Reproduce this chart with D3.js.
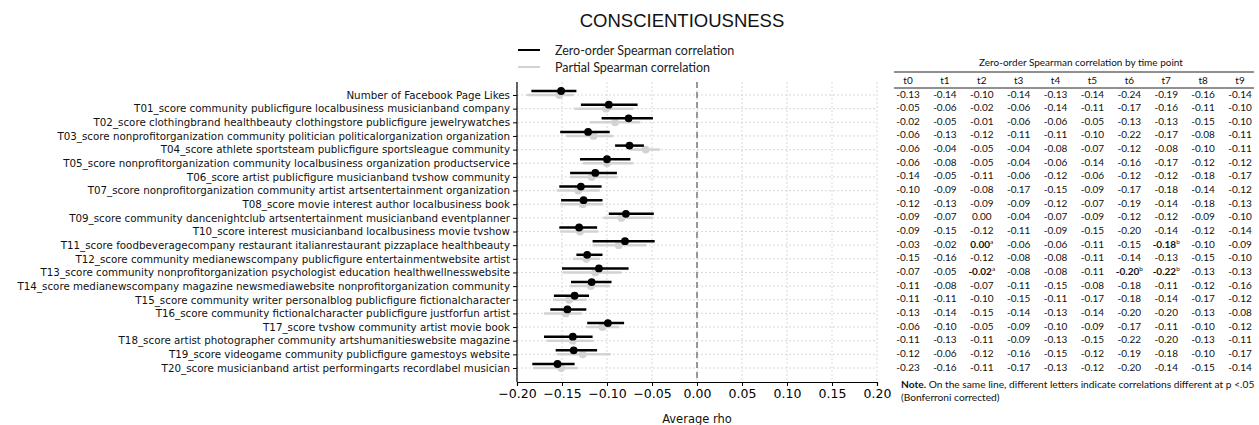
<!DOCTYPE html>
<html><head><meta charset="utf-8">
<script src="https://cdn.jsdelivr.net/npm/d3@7"></script>
<style>body{margin:0;background:#fff}svg{display:block}</style>
</head><body>
<svg id="c" width="1259" height="425"></svg>
<script>
const categories = [
"Number of Facebook Page Likes",
"T01_score community publicfigure localbusiness musicianband company",
"T02_score clothingbrand healthbeauty clothingstore publicfigure jewelrywatches",
"T03_score nonprofitorganization community politician politicalorganization organization",
"T04_score athlete sportsteam publicfigure sportsleague community",
"T05_score nonprofitorganization community localbusiness organization productservice",
"T06_score artist publicfigure musicianband tvshow community",
"T07_score nonprofitorganization community artist artsentertainment organization",
"T08_score movie interest author localbusiness book",
"T09_score community dancenightclub artsentertainment musicianband eventplanner",
"T10_score interest musicianband localbusiness movie tvshow",
"T11_score foodbeveragecompany restaurant italianrestaurant pizzaplace healthbeauty",
"T12_score community medianewscompany publicfigure entertainmentwebsite artist",
"T13_score community nonprofitorganization psychologist education healthwellnesswebsite",
"T14_score medianewscompany magazine newsmediawebsite nonprofitorganization community",
"T15_score community writer personalblog publicfigure fictionalcharacter",
"T16_score community fictionalcharacter publicfigure justforfun artist",
"T17_score tvshow community artist movie book",
"T18_score artist photographer community artshumanitieswebsite magazine",
"T19_score videogame community publicfigure gamestoys website",
"T20_score musicianband artist performingarts recordlabel musician"
];
// Zero-order Spearman (black)
const zeroOrder = [-0.151,-0.098,-0.076,-0.121,-0.075,-0.100,-0.113,-0.129,-0.126,-0.079,-0.131,-0.080,-0.122,-0.109,-0.117,-0.136,-0.144,-0.099,-0.138,-0.137,-0.155];
const zeroLow   = [-0.184,-0.129,-0.106,-0.152,-0.091,-0.130,-0.141,-0.153,-0.151,-0.098,-0.153,-0.116,-0.134,-0.150,-0.140,-0.159,-0.163,-0.122,-0.170,-0.157,-0.183];
const zeroHigh  = [-0.134,-0.066,-0.049,-0.097,-0.059,-0.074,-0.089,-0.106,-0.105,-0.048,-0.111,-0.047,-0.105,-0.076,-0.095,-0.120,-0.123,-0.081,-0.116,-0.111,-0.136];
// Partial Spearman (light grey)
const partial     = [-0.153,-0.101,-0.091,-0.115,-0.057,-0.100,-0.117,-0.132,-0.127,-0.084,-0.130,-0.087,-0.123,-0.113,-0.118,-0.142,-0.146,-0.105,-0.138,-0.127,-0.151];
const partialLow  = [-0.189,-0.136,-0.119,-0.145,-0.074,-0.127,-0.141,-0.156,-0.152,-0.104,-0.152,-0.116,-0.138,-0.149,-0.141,-0.160,-0.170,-0.123,-0.167,-0.156,-0.182];
const partialHigh = [-0.137,-0.071,-0.063,-0.093,-0.041,-0.071,-0.089,-0.108,-0.104,-0.049,-0.110,-0.056,-0.108,-0.084,-0.097,-0.123,-0.128,-0.086,-0.115,-0.096,-0.133];

const xTicks = [-0.20,-0.15,-0.10,-0.05,0.00,0.05,0.10,0.15,0.20];
const timeLabels = ["t0","t1","t2","t3","t4","t5","t6","t7","t8","t9"];
const tableRows = [
["-0.13","-0.14","-0.10","-0.14","-0.13","-0.14","-0.24","-0.19","-0.16","-0.14"],
["-0.05","-0.06","-0.02","-0.06","-0.14","-0.11","-0.17","-0.16","-0.11","-0.10"],
["-0.02","-0.05","-0.01","-0.06","-0.06","-0.05","-0.13","-0.13","-0.15","-0.10"],
["-0.06","-0.13","-0.12","-0.11","-0.11","-0.10","-0.22","-0.17","-0.08","-0.11"],
["-0.06","-0.04","-0.05","-0.04","-0.08","-0.07","-0.12","-0.08","-0.10","-0.11"],
["-0.06","-0.08","-0.05","-0.04","-0.06","-0.14","-0.16","-0.17","-0.12","-0.12"],
["-0.14","-0.05","-0.11","-0.06","-0.12","-0.06","-0.12","-0.12","-0.18","-0.17"],
["-0.10","-0.09","-0.08","-0.17","-0.15","-0.09","-0.17","-0.18","-0.14","-0.12"],
["-0.12","-0.13","-0.09","-0.09","-0.12","-0.07","-0.19","-0.14","-0.18","-0.13"],
["-0.09","-0.07","0.00","-0.04","-0.07","-0.09","-0.12","-0.12","-0.09","-0.10"],
["-0.09","-0.15","-0.12","-0.11","-0.09","-0.15","-0.20","-0.14","-0.12","-0.14"],
["-0.03","-0.02","0.00","-0.06","-0.06","-0.11","-0.15","-0.18","-0.10","-0.09"],
["-0.15","-0.16","-0.12","-0.08","-0.08","-0.11","-0.14","-0.13","-0.15","-0.10"],
["-0.07","-0.05","-0.02","-0.08","-0.08","-0.11","-0.20","-0.22","-0.13","-0.13"],
["-0.11","-0.08","-0.07","-0.11","-0.15","-0.08","-0.18","-0.11","-0.12","-0.16"],
["-0.11","-0.11","-0.10","-0.15","-0.11","-0.17","-0.18","-0.14","-0.17","-0.12"],
["-0.13","-0.14","-0.15","-0.14","-0.13","-0.14","-0.20","-0.20","-0.13","-0.08"],
["-0.06","-0.10","-0.05","-0.09","-0.10","-0.09","-0.17","-0.11","-0.10","-0.12"],
["-0.11","-0.13","-0.11","-0.09","-0.13","-0.15","-0.22","-0.20","-0.13","-0.11"],
["-0.12","-0.06","-0.12","-0.16","-0.15","-0.12","-0.19","-0.18","-0.10","-0.17"],
["-0.23","-0.16","-0.11","-0.17","-0.13","-0.12","-0.20","-0.14","-0.15","-0.14"]
];
// bold cells with superscript letters: [row, col, letter]
const boldCells = [[11,2,"a"],[11,7,"b"],[13,2,"a"],[13,6,"b"],[13,7,"b"]];

const svg = d3.select("#c");
const plot = {left:517, right:877, top:82, bottom:382};
const x = d3.scaleLinear().domain([-0.2,0.2]).range([plot.left, plot.right]);
const y = d3.scalePoint().domain(d3.range(categories.length)).range([95, 368]);
const fontPlot = "'DejaVu Sans', sans-serif";
const fontTitle = "'Liberation Sans', Arial, sans-serif";
const fontTbl = "Lato, 'Liberation Sans', sans-serif";

// Title
svg.append("text").attr("x", 682).attr("y", 27).attr("text-anchor","middle")
  .attr("font-family", fontTitle).attr("font-size", 18.5).attr("fill","#111").text("CONSCIENTIOUSNESS");

// Grid
const g = svg.append("g");
g.selectAll("line.vg").data(xTicks).join("line").attr("class","vg")
  .attr("x1", d=>x(d)).attr("x2", d=>x(d)).attr("y1", plot.top).attr("y2", plot.bottom)
  .attr("stroke","#cfcfcf").attr("stroke-width",0.8).attr("stroke-dasharray","2,2");
g.selectAll("line.hg").data(d3.range(categories.length)).join("line").attr("class","hg")
  .attr("x1", plot.left).attr("x2", plot.right).attr("y1", d=>y(d)).attr("y2", d=>y(d))
  .attr("stroke","#cfcfcf").attr("stroke-width",0.8).attr("stroke-dasharray","2,2");
// zero line
g.append("line").attr("x1", x(0)).attr("x2", x(0)).attr("y1", plot.top).attr("y2", plot.bottom)
  .attr("stroke","#7a7a7a").attr("stroke-width",1.5).attr("stroke-dasharray","6,4");

// Axes
const xAxis = d3.axisBottom(x).tickValues(xTicks).tickFormat(d3.format(".2f")).tickSize(4).tickPadding(3);
const xg = svg.append("g").attr("transform", `translate(0,${plot.bottom})`).call(xAxis);
xg.select(".domain").attr("stroke","#000").attr("stroke-width",1.2);
xg.selectAll(".tick line").attr("stroke","#000");
xg.selectAll("text").attr("font-family", fontPlot).attr("font-size", 12.5).attr("fill","#000");

const yAxis = d3.axisLeft(y).tickFormat(i=>categories[i]).tickSize(4).tickPadding(3);
const yg = svg.append("g").attr("transform", `translate(${plot.left},0)`).call(yAxis);
yg.select(".domain").attr("d", `M0,${plot.top}V${plot.bottom}`).attr("stroke","#000").attr("stroke-width",1.2);
yg.selectAll(".tick line").attr("stroke","#000");
yg.selectAll("text").attr("font-family", fontPlot).attr("font-size", 10.3).attr("fill","#111");

svg.append("text").attr("x", x(0)).attr("y", 422.5).attr("text-anchor","middle")
  .attr("font-family", fontPlot).attr("font-size", 11.5).attr("fill","#111").text("Average rho");

// Partial (grey) series
const idx = d3.range(categories.length);
const grey = "#d3d3d3";
svg.append("g").selectAll("line").data(idx).join("line")
  .attr("x1", i=>x(partialLow[i])).attr("x2", i=>x(partialHigh[i]))
  .attr("y1", i=>y(i)).attr("y2", i=>y(i)).attr("stroke", grey).attr("stroke-width", 2.5);
svg.append("g").selectAll("circle").data(idx).join("circle")
  .attr("cx", i=>x(partial[i])).attr("cy", i=>y(i)).attr("r", 3.9).attr("fill", grey);
// Zero-order (black) series
const off = -4;
svg.append("g").selectAll("line").data(idx).join("line")
  .attr("x1", i=>x(zeroLow[i])).attr("x2", i=>x(zeroHigh[i]))
  .attr("y1", i=>y(i)+off).attr("y2", i=>y(i)+off).attr("stroke", "#000").attr("stroke-width", 2.5);
svg.append("g").selectAll("circle").data(idx).join("circle")
  .attr("cx", i=>x(zeroOrder[i])).attr("cy", i=>y(i)+off).attr("r", 3.9).attr("fill", "#000");

// Legend
const leg = [{t:"Zero-order Spearman correlation", c:"#000"},{t:"Partial Spearman correlation", c:grey}];
const lg = svg.append("g");
leg.forEach((d,k)=>{
  const yy = 50 + k*17;
  lg.append("line").attr("x1",518).attr("x2",540).attr("y1",yy).attr("y2",yy).attr("stroke",d.c).attr("stroke-width",2);
  lg.append("text").attr("x",555).attr("y",yy+4.5).attr("font-family",fontTbl).attr("font-size",12.5).attr("fill","#222").text(d.t);
});

// Table
const col = d3.scalePoint().domain(timeLabels).range([908, 1240]);
const tg = svg.append("g").attr("font-family", fontTbl).attr("fill","#111");
tg.append("text").attr("x",1081).attr("y",66).attr("text-anchor","middle").attr("font-size",10).text("Zero-order Spearman correlation by time point");
tg.append("line").attr("x1",894).attr("x2",1254).attr("y1",72).attr("y2",72).attr("stroke","#222").attr("stroke-width",1.2);
tg.append("line").attr("x1",894).attr("x2",1254).attr("y1",88).attr("y2",88).attr("stroke","#222").attr("stroke-width",1);
tg.selectAll("text.h").data(timeLabels).join("text").attr("class","h")
  .attr("x", d=>col(d)).attr("y", 83.5).attr("text-anchor","middle").attr("font-size",10).text(d=>d);
const ty = d3.scalePoint().domain(d3.range(tableRows.length)).range([94, 367]);
tableRows.forEach((row, r)=>{
  row.forEach((v, c)=>{
    const b = boldCells.find(d=>d[0]===r && d[1]===c);
    const t = tg.append("text").attr("x", col(timeLabels[c])).attr("y", ty(r)+3.5)
      .attr("text-anchor","middle").attr("font-size",10);
    if (b) {
      t.attr("font-weight","bold").text(v);
      t.append("tspan").attr("font-size",6.5).attr("dy",-4).attr("font-weight","normal").text(b[2]);
    } else t.text(v);
  });
});
const note = tg.append("text").attr("x",901).attr("y",388).attr("font-size",10.2);
note.append("tspan").attr("font-weight","bold").text("Note.");
note.append("tspan").text(" On the same line, different letters indicate correlations different at p <.05");
tg.append("text").attr("x",901).attr("y",401).attr("font-size",10.2).text("(Bonferroni corrected)");
</script>
</body></html>
